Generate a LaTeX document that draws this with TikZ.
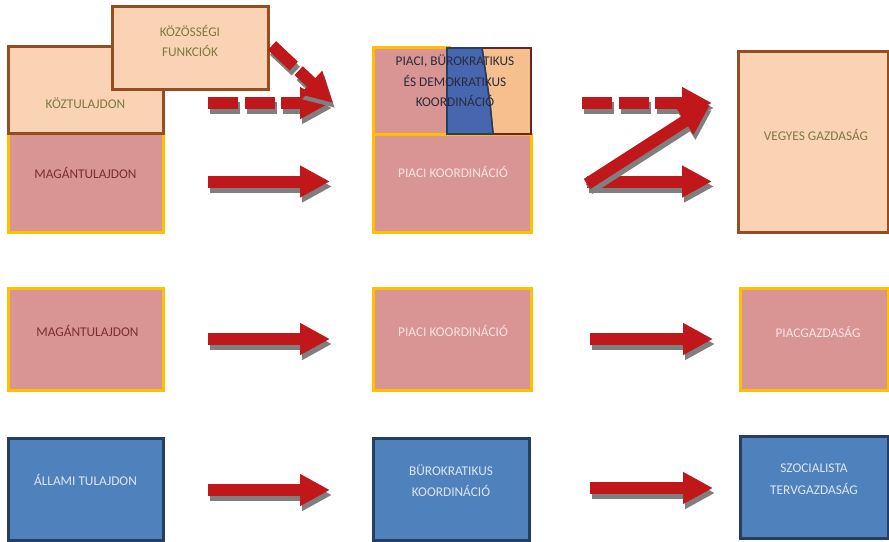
\documentclass[tikz,border=0pt]{standalone}
\usepackage{fontspec}
\setmainfont{Carlito}
\usetikzlibrary{arrows.meta,calc}
\definecolor{peach}{HTML}{FAD3B4}
\definecolor{brownb}{HTML}{974C21}
\definecolor{pinkf}{HTML}{D99594}
\definecolor{yellowb}{HTML}{FFC000}
\definecolor{bluef}{HTML}{4F81BD}
\definecolor{navyb}{HTML}{243F60}
\definecolor{mixblue}{HTML}{4766B0}
\definecolor{mixpeach}{HTML}{F6C08E}
\definecolor{mixred}{HTML}{6B2424}
\definecolor{arrred}{HTML}{C0171A}
\definecolor{shadowg}{HTML}{7F7F7F}
\definecolor{olive}{HTML}{7D7B3C}
\definecolor{maroon}{HTML}{7B2F2F}
\definecolor{lightpink}{HTML}{F6E4E4}
\definecolor{lightblue}{HTML}{DCE6F2}
\definecolor{darktext}{HTML}{2B2B3B}
\newcommand\myarr[3]{%
  \draw[shadowarr,#1] #2 -- #3;
  \draw[redarr,#1] #2 -- #3;}
\begin{document}
\begin{tikzpicture}[x=0.75pt,y=-0.75pt,
  sz/.style 2 args={minimum width=#1*0.75pt, minimum height=#2*0.75pt},
  basebox/.style={line width=2.25pt, inner sep=0pt, outer sep=0pt},
  peachbox/.style={basebox, draw=brownb, fill=peach},
  pinkbox/.style={basebox, draw=yellowb, fill=pinkf},
  bluebox/.style={basebox, draw=navyb, fill=bluef},
  txt/.style={inner sep=0pt, align=center, font=\fontsize{10}{15}\selectfont},
  redarr/.style={draw=arrred, line width=9pt, -{Triangle[length=22.5pt,width=22.5pt]}},
  shadowarr/.style={draw=shadowg, line width=9pt, -{Triangle[length=22.5pt,width=22.5pt]},
    transform canvas={shift={(2,5)}}},
  dashedarr/.style={dash pattern=on 22.5pt off 5pt}]
\useasboundingbox (0,0) rectangle (889,542);
% ---------- row 1 ----------
\node[pinkbox, sz={155}{99}] (mag1) at (85.5,182.5) {};
\node[peachbox, sz={155}{86}] (koz) at (85.5,90) {};
\node[peachbox, sz={156}{83}] (kozf) at (190,48.5) {};
\node[txt, text=olive] at ($(kozf.center)+(0,-8)$) {KÖZÖSSÉGI\\FUNKCIÓK};
\node[txt, text=olive] at ($(koz.center)+(0,13)$) {KÖZTULAJDON};
\node[txt, text=maroon] at ($(mag1.center)+(0,-10)$) {MAGÁNTULAJDON};

\node[pinkbox, sz={158}{98}] (piaci1) at (452,183) {};
\node[txt, text=lightpink] at ($(piaci1.center)+(1,-11)$) {PIACI KOORDINÁCIÓ};
\node[inner sep=0pt, outer sep=0pt, sz={158}{86}] (mix) at (452,91) {};
\draw[line width=2.25pt, draw=yellowb, fill=pinkf] (373,48) rectangle (449,134);
\draw[line width=1.2pt, draw=mixred, fill=mixpeach]
  (482,48) -- (531,48) -- (531,134) -- (493,134) -- (490,104) -- (486,76) -- cycle;
\draw[line width=1.2pt, draw=navyb, fill=mixblue]
  (447,48) -- (482,48) -- (486,76) -- (490,104) -- (493,134) -- (447,134) -- cycle;
\node[txt, text=darktext, font=\fontsize{10}{15.5}\selectfont] at ($(mix.center)+(3,-10)$)
  {PIACI, BÜROKRATIKUS\\ÉS DEMOKRATIKUS\\KOORDINÁCIÓ};

\node[peachbox, sz={150}{180}] (vegyes) at (813,142) {};
\node[txt, text=olive] at ($(vegyes.center)+(3,-7)$) {VEGYES GAZDASÁG};

% row 1 arrows
\myarr{dashedarr}{($(koz.east)+(45,13)$)}{($(mix.west)+(-43,12)$)}
\myarr{dashedarr}{($(kozf.east)+(4,-3)$)}{($(mix.west)+(-40,12)$)}
\myarr{}{($(mag1.east)+(45,-1)$)}{($(piaci1.west)+(-43,-1.5)$)}
\myarr{dashedarr}{($(mix.east)+(51,12)$)}{($(vegyes.west)+(-26,-39)$)}
\myarr{}{($(piaci1.east)+(56,-1.5)$)}{($(vegyes.west)+(-26,39.5)$)}
\myarr{}{($(piaci1.east)+(56,1)$)}{($(vegyes.west)+(-28,-37)$)}

% ---------- row 2 ----------
\node[pinkbox, sz={155}{102}] (mag2) at (85.5,339) {};
\node[txt, text=maroon] at ($(mag2.center)+(2,-8)$) {MAGÁNTULAJDON};
\node[pinkbox, sz={158}{102}] (piaci2) at (452,339) {};
\node[txt, text=lightpink] at ($(piaci2.center)+(1,-8)$) {PIACI KOORDINÁCIÓ};
\node[pinkbox, sz={148}{102}] (piacg) at (814,339) {};
\node[txt, text=lightpink] at ($(piacg.center)+(4,-7)$) {PIACGAZDASÁG};
\myarr{}{($(mag2.east)+(45,0)$)}{($(piaci2.west)+(-43,0)$)}
\myarr{}{($(piaci2.east)+(59,0)$)}{($(piacg.west)+(-27,0)$)}

% ---------- row 3 ----------
\node[bluebox, sz={155}{102}] (allami) at (85.5,489) {};
\node[txt, text=lightblue] at ($(allami.center)+(0,-9)$) {ÁLLAMI TULAJDON};
\node[bluebox, sz={156}{102}] (bur) at (451,489) {};
\node[txt, text=lightblue, font=\fontsize{10}{16}\selectfont] at ($(bur.center)+(0,-8)$) {BÜROKRATIKUS\\KOORDINÁCIÓ};
\node[bluebox, sz={148}{102}] (szoc) at (814,487) {};
\node[txt, text=lightblue, font=\fontsize{10}{16.5}\selectfont] at ($(szoc.center)+(0,-8)$) {SZOCIALISTA\\TERVGAZDASÁG};
\myarr{}{($(allami.east)+(45,1)$)}{($(bur.west)+(-43,1)$)}
\myarr{}{($(bur.east)+(61,-1)$)}{($(szoc.west)+(-27,1)$)}
\end{tikzpicture}
\end{document}
